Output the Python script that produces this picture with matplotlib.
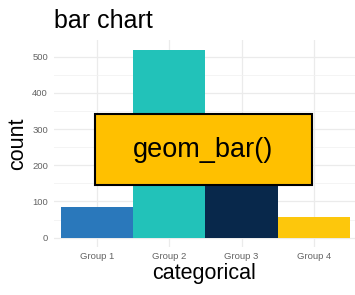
import matplotlib.pyplot as plt
from matplotlib.patches import Rectangle

plt.rcParams['font.family'] = ['Liberation Sans', 'DejaVu Sans']

groups = ['Group 1', 'Group 2', 'Group 3', 'Group 4']
counts = [86, 520, 270, 58]
colors = ['#2a78bb', '#22c2b9', '#08284b', '#fdc70c']
yticks = [0, 100, 200, 300, 400, 500]

fig = plt.figure(figsize=(3.55, 2.95), dpi=100)
ax = fig.add_axes([0.151, 0.163, 0.849, 0.701])

x = list(range(1, len(groups) + 1))
ax.bar(x, counts, width=1.0, color=colors, zorder=2)

ax.set_xlim(0.4, 4.57)
ax.set_ylim(-25.7, 546)
ax.set_xticks(x)
ax.set_xticklabels(groups)
ax.set_yticks(yticks)
ax.set_yticks([50, 150, 250, 350, 450], minor=True)
ax.grid(True, which='major', color='#ebebeb', linewidth=0.9, zorder=0)
ax.grid(True, which='minor', axis='y', color='#f2f2f2', linewidth=0.6, zorder=0)
ax.tick_params(which='both', length=0, labelsize=6.8, labelcolor='#636363', pad=4)
for s in ax.spines.values():
    s.set_visible(False)

ax.set_ylabel('count', fontsize=15.5, labelpad=3)
ax.set_xlabel('categorical', fontsize=15.5, labelpad=1)

fig.text(0.152, 0.905, 'bar chart', fontsize=18, va='baseline', ha='left')

# label box over the plot
fig.patches.append(Rectangle((0.268, 0.373), 0.611, 0.241, transform=fig.transFigure,
                             facecolor='#ffc000', edgecolor='black', linewidth=1.5, zorder=5))
fig.text(0.573, 0.493, 'geom_bar()', fontsize=19.5, ha='center', va='center', zorder=6)

fig.savefig('out.png', dpi=100)
